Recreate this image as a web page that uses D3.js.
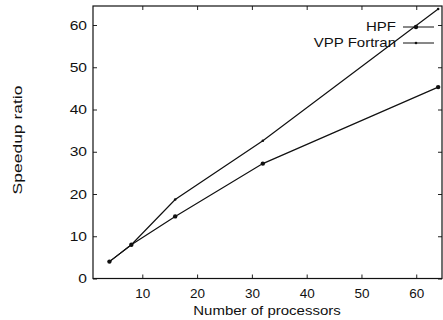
<!DOCTYPE html>
<html><head><meta charset="utf-8">
<script src="https://cdn.jsdelivr.net/npm/d3@7"></script>
<style>
html,body{margin:0;padding:0;background:#fff;}
text{font-family:"Liberation Sans",Arial,Helvetica,sans-serif;fill:#111;}
</style></head>
<body><svg id="c" width="443" height="320"></svg>
<script>
const processors = [4, 8, 16, 32, 64];
const hpf = [4, 8, 14.7, 27.2, 45.3];
const vpp = [4, 8, 18.7, 32.6, 63.8];
const xTicks = [10, 20, 30, 40, 50, 60];
const yTicks = [0, 10, 20, 30, 40, 50, 60];
const seriesNames = ["HPF", "VPP Fortran"];

const svg = d3.select("#c");
const L = 93, R = 442, T = 6, B = 278.5;
const x = d3.scaleLinear().domain([1, 64.7]).range([L, R]);
const y = d3.scaleLinear().domain([0, 64.5]).range([B, T]);

svg.append("defs").append("clipPath").attr("id","clip")
  .append("rect").attr("x",L).attr("y",T).attr("width",R-L).attr("height",B-T);

const ax = (g)=>g.selectAll(".domain").remove();
// bottom axis with inward ticks
svg.append("g").attr("transform",`translate(0,${B})`)
  .call(d3.axisBottom(x).tickValues(xTicks).tickSizeInner(-4).tickSizeOuter(0).tickPadding(10))
  .call(ax).call(g=>g.selectAll("text").attr("font-size",12.5)
    .attr("y",0).attr("dy",0).attr("transform","translate(0,19) scale(1.08,1)"));
// top mirror ticks
svg.append("g").attr("transform",`translate(0,${T})`)
  .call(d3.axisTop(x).tickValues(xTicks).tickSizeInner(-4).tickSizeOuter(0).tickFormat(""))
  .call(ax);
// left axis
svg.append("g").attr("transform",`translate(${L},0)`)
  .call(d3.axisLeft(y).tickValues(yTicks).tickSizeInner(-4).tickSizeOuter(0).tickPadding(6))
  .call(ax).call(g=>g.selectAll("text").attr("font-size",12.5)
    .attr("x",0).attr("transform","translate(-6,0) scale(1.25,1)"));
// right mirror
svg.append("g").attr("transform",`translate(${R},0)`)
  .call(d3.axisRight(y).tickValues(yTicks).tickSizeInner(-4).tickSizeOuter(0).tickFormat(""))
  .call(ax);
svg.selectAll(".tick line").attr("stroke","#222").attr("stroke-width",1);

// frame
svg.append("rect").attr("x",L).attr("y",T).attr("width",R-L).attr("height",B-T)
  .attr("fill","none").attr("stroke","#111").attr("stroke-width",1.2);

const line = d3.line().x(d=>x(d[0])).y(d=>y(d[1]));
const series = [
  {name: seriesNames[0], vals: hpf, r: 2.2},
  {name: seriesNames[1], vals: vpp, r: 1.3}
];
const plot = svg.append("g").attr("clip-path","url(#clip)");
series.forEach(s=>{
  const pts = processors.map((p,i)=>[p, s.vals[i]]);
  plot.append("path").attr("d", line(pts)).attr("fill","none")
    .attr("stroke","#111").attr("stroke-width",1.2);
  plot.selectAll(null).data(pts).enter().append("circle")
    .attr("cx",d=>x(d[0])).attr("cy",d=>y(d[1])).attr("r",s.r).attr("fill","#111");
});

// legend
series.forEach((s,i)=>{
  const ly = 27 + i*16;
  svg.append("text").attr("transform",`translate(396,${ly}) scale(1.2,1)`).attr("dy","0.35em")
    .attr("text-anchor","end").attr("font-size",12.5).text(s.name);
  svg.append("line").attr("x1",403).attr("x2",434).attr("y1",ly).attr("y2",ly)
    .attr("stroke","#111").attr("stroke-width",1);
  svg.append("circle").attr("cx",416).attr("cy",ly).attr("r",s.r).attr("fill","#111");
});

// axis titles
svg.append("text").attr("transform","translate(267,311) scale(1.2,1)").attr("dy","0.35em")
  .attr("text-anchor","middle").attr("font-size",12.5).text("Number of processors");
svg.append("text").attr("transform","translate(18,140) rotate(-90) scale(1.4,1)").attr("dy","0.35em")
  .attr("text-anchor","middle").attr("font-size",12.5).text("Speedup ratio");
</script></body></html>
